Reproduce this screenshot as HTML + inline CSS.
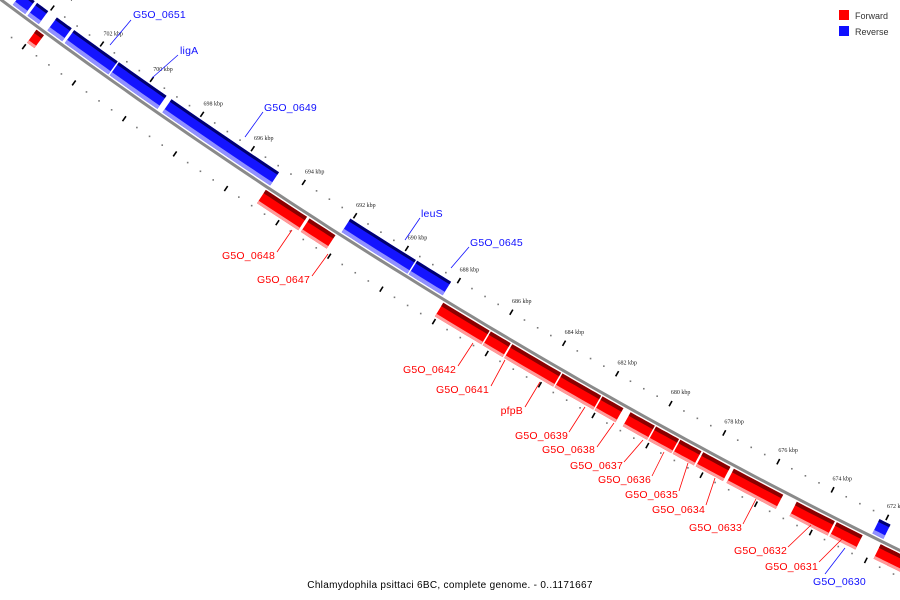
<!DOCTYPE html>
<html><head><meta charset="utf-8"><style>
html,body{margin:0;padding:0;background:#fff;}
svg{display:block;font-family:"Liberation Sans",sans-serif;}
</style></head><body>
<svg id="map" width="900" height="600" viewBox="0 0 900 600" xmlns="http://www.w3.org/2000/svg">
<g id="ticks"></g>
<g id="backbone"></g>
<g id="genes"></g>
<g id="labels"></g>
<g>
<rect x="839" y="10" width="10" height="10" fill="#ff0000"/>
<text x="855" y="19" font-size="9" fill="#333">Forward</text>
<rect x="839" y="26" width="10" height="10" fill="#1010ff"/>
<text x="855" y="35" font-size="9" fill="#333">Reverse</text>
</g>
<text x="450" y="588" font-size="10" text-anchor="middle" letter-spacing="0.3" fill="#000">Chlamydophila psittaci 6BC, complete genome. - 0..1171667</text>
</svg>
<script>
const geneStart = [705.1,704.5,703.7,703.0,701.2,699.1,692.08,689.5,672.2,704.0,694.9,693.2,688.06,686.25,685.44,683.55,682.05,681.0,680.05,679.15,678.3,677.17,674.86,673.4,671.8,671.3];
const geneEnd   = [704.6,704.05,703.1,701.25,699.3,694.86,689.55,688.2,671.8,703.7,693.3,692.2,686.3,685.5,683.6,682.1,681.27,680.1,679.2,678.37,677.3,675.36,673.47,672.46,671.2,670.3];
const geneStrand= [-1,-1,-1,-1,-1,-1,-1,-1,-1,1,1,1,1,1,1,1,1,1,1,1,1,1,1,1,1,1];
const majorTickKbp = [670,672,674,676,678,680,682,684,686,688,690,692,694,696,698,700,702,704,706];
const tickLabels = ["670 kbp","672 kbp","674 kbp","676 kbp","678 kbp","680 kbp","682 kbp","684 kbp","686 kbp","688 kbp","690 kbp","692 kbp","694 kbp","696 kbp","698 kbp","700 kbp","702 kbp","704 kbp","706 kbp"];
const labelNames = ["G5O_0651","ligA","G5O_0649","leuS","G5O_0645","G5O_0630","G5O_0648","G5O_0647","G5O_0642","G5O_0641","pfpB","G5O_0639","G5O_0638","G5O_0637","G5O_0636","G5O_0635","G5O_0634","G5O_0633","G5O_0632","G5O_0631"];

const NS="http://www.w3.org/2000/svg";
const GL=1171667, R=5730;
function th(k){return 2*Math.PI*k*1000/GL;}
const a0=th(684);
const CX=552-R*Math.sin(a0), CY=364+R*Math.cos(a0);
function pt(k,r){const t=th(k);return [CX+r*Math.sin(t), CY-r*Math.cos(t)];}
function mk(tag,attrs,parent){const e=document.createElementNS(NS,tag);for(const a in attrs)e.setAttribute(a,attrs[a]);parent.appendChild(e);return e;}

// backbone
const bb=document.getElementById('backbone');
let d="";for(let k=708;k>=668;k-=0.5){const p=pt(k,R);d+=(d?"L":"M")+p[0].toFixed(1)+","+p[1].toFixed(1);}
const bl=mk('path',{d:d,fill:'none',stroke:'#8a8a8a','stroke-width':3},bb);



// ticks
const tg=document.getElementById('ticks');
for(let k=668;k<=708.01;k+=0.5){
  const isMajor=Math.abs(k/2-Math.round(k/2))<1e-6;
  [-1,1].forEach(s=>{
    if(isMajor){
      const a=pt(k,R+s*21),b=pt(k,R+s*27);
      const l=mk('line',{x1:a[0],y1:a[1],x2:b[0],y2:b[1],stroke:'#000','stroke-width':1.6},tg);
      
      
    }else{
      const p=pt(k,R+s*24);
      const c=mk('rect',{x:p[0]-0.8,y:p[1]-0.8,width:1.6,height:1.6,fill:'#777'},tg);
      
      
    }
  });
}
majorTickKbp.forEach((k,i)=>{
  const p=pt(k,R-37);
  const t=mk('text',{x:p[0]-6,y:p[1]+2,'font-size':6,fill:'#222','font-family':'Liberation Serif, serif'},tg);
  t.textContent=tickLabels[i];
  
  
});

// genes
const gg=document.getElementById('genes');
function band(k1,k2,r1,r2,fill,parent,name){
  let s="";const n=8;
  for(let i=0;i<=n;i++){const p=pt(k1+(k2-k1)*i/n,r1);s+=(s?"L":"M")+p[0].toFixed(1)+","+p[1].toFixed(1);}
  for(let i=n;i>=0;i--){const p=pt(k1+(k2-k1)*i/n,r2);s+="L"+p[0].toFixed(1)+","+p[1].toFixed(1);}
  const e=mk('path',{d:s+"Z",fill:fill},parent);
  
  
}
geneStart.forEach((k1,i)=>{
  const k2=geneEnd[i], s=geneStrand[i];
  const g=mk('g',{},gg);
  
  
  if(s>0){
    band(k1,k2,R+3,R+19,'#ff0000',g,'gene-body');
    band(k1,k2,R+3,R+7,'#8a0000',g,'gene-shade');
    band(k1,k2,R+16,R+19,'#ff9a9a',g,'gene-highlight');
  }else{
    band(k1,k2,R-19,R-3,'#1414ff',g,'gene-body');
    band(k1,k2,R-19,R-16,'#000070',g,'gene-shade');
    band(k1,k2,R-7,R-3,'#9090ff',g,'gene-highlight');
  }
});

// labels (layout positions)
const lab=document.getElementById('labels');
const labelLayout=[
 [110,45,131,20,133,18,'start','#1010ff'],
 [152,78,178,55,180,54,'start','#1010ff'],
 [245,137,263,112,264,111,'start','#1010ff'],
 [405,240,420,218,421,217,'start','#1010ff'],
 [451,268,469,247,470,246,'start','#1010ff'],
 [845,548,825,574,813,585,'start','#1010ff'],
 [292,230,277,252,275,259,'end','#ff0000'],
 [328,254,312,276,310,283,'end','#ff0000'],
 [473,343,458,366,456,373,'end','#ff0000'],
 [505,360,491,386,489,393,'end','#ff0000'],
 [540,382,525,407,523,414,'end','#ff0000'],
 [585,407,569,432,568,439,'end','#ff0000'],
 [614,423,597,447,595,453,'end','#ff0000'],
 [643,440,624,462,623,469,'end','#ff0000'],
 [664,452,652,476,651,483,'end','#ff0000'],
 [688,463,679,491,678,498,'end','#ff0000'],
 [715,478,706,505,705,513,'end','#ff0000'],
 [756,499,743,524,742,531,'end','#ff0000'],
 [811,525,788,547,787,554,'end','#ff0000'],
 [842,539,819,562,818,570,'end','#ff0000']
];
labelNames.forEach((nm,i)=>{
  const L=labelLayout[i];
  const ln=mk('line',{x1:L[0],y1:L[1],x2:L[2],y2:L[3],stroke:L[7],'stroke-width':0.8},lab);
  
  
  const t=mk('text',{x:L[4],y:L[5],'font-size':10.5,'text-anchor':L[6],fill:L[7],'letter-spacing':0.2},lab);
  t.textContent=nm;
  
  
});
</script>
</body></html>
